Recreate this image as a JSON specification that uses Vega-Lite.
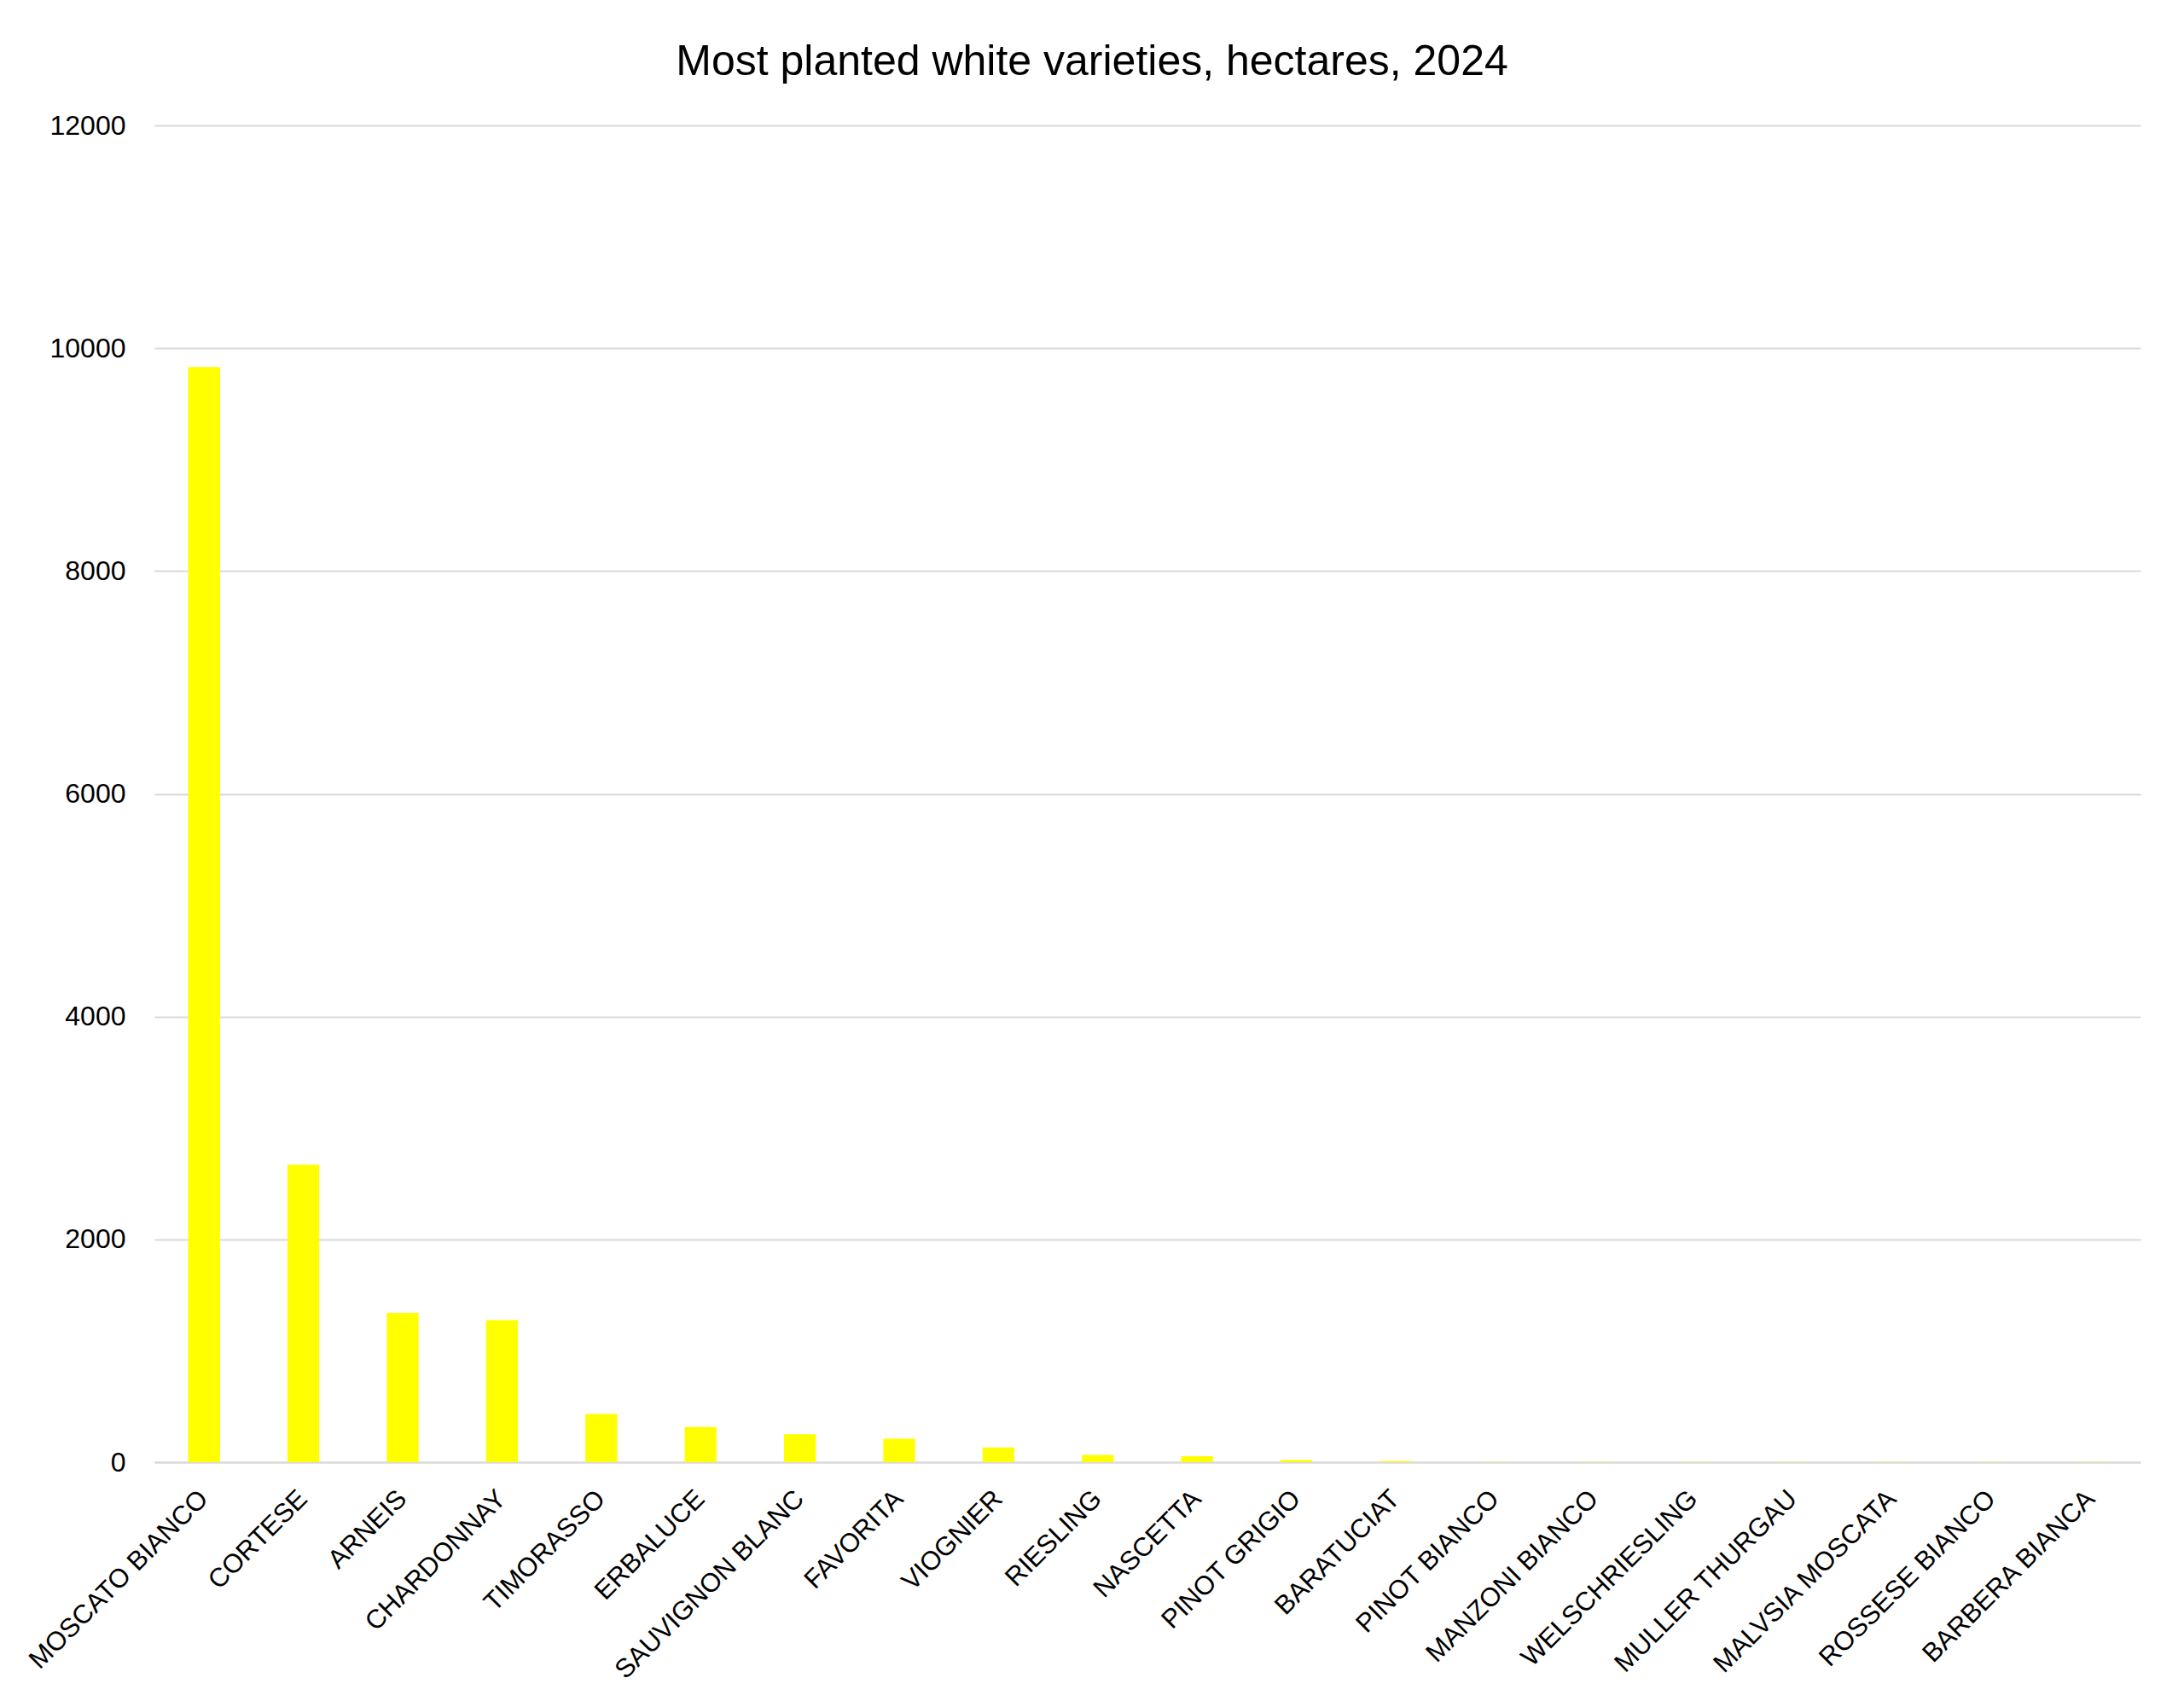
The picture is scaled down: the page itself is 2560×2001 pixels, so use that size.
{
  "$schema": "https://vega.github.io/schema/vega-lite/v6.json",
  "width": 2328,
  "height": 1567,
  "autosize": {"type": "none"},
  "padding": {"left": 181, "top": 147, "right": 51, "bottom": 287},
  "background": "white",
  "title": {
    "text": "Most planted white varieties, hectares, 2024",
    "anchor": "middle",
    "frame": "group",
    "dx": -65,
    "offset": -7,
    "baseline": "alphabetic",
    "font": "Liberation Sans",
    "fontSize": 50,
    "fontWeight": "normal",
    "color": "#000000"
  },
  "data": {
    "values": [
      {"variety": "MOSCATO BIANCO", "hectares": 9830},
      {"variety": "CORTESE", "hectares": 2670},
      {"variety": "ARNEIS", "hectares": 1340},
      {"variety": "CHARDONNAY", "hectares": 1275},
      {"variety": "TIMORASSO", "hectares": 432},
      {"variety": "ERBALUCE", "hectares": 315},
      {"variety": "SAUVIGNON BLANC", "hectares": 251},
      {"variety": "FAVORITA", "hectares": 210},
      {"variety": "VIOGNIER", "hectares": 133},
      {"variety": "RIESLING", "hectares": 66},
      {"variety": "NASCETTA", "hectares": 54},
      {"variety": "PINOT GRIGIO", "hectares": 20},
      {"variety": "BARATUCIAT", "hectares": 10},
      {"variety": "PINOT BIANCO", "hectares": 2},
      {"variety": "MANZONI BIANCO", "hectares": 1},
      {"variety": "WELSCHRIESLING", "hectares": 1},
      {"variety": "MULLER THURGAU", "hectares": 1},
      {"variety": "MALVSIA MOSCATA", "hectares": 1},
      {"variety": "ROSSESE BIANCO", "hectares": 1},
      {"variety": "BARBERA BIANCA", "hectares": 1}
    ]
  },
  "mark": {"type": "bar", "color": "#FFFF00"},
  "encoding": {
    "x": {
      "field": "variety",
      "type": "nominal",
      "sort": null,
      "scale": {"paddingInner": 0.68, "paddingOuter": 0.34},
      "axis": {
        "title": null,
        "labelAngle": -45,
        "labelAlign": "right",
        "labelBaseline": "middle",
        "labelPadding": 38,
        "labelLimit": 0,
        "labelFont": "Liberation Sans",
        "labelFontSize": 31,
        "labelColor": "#000000",
        "ticks": false,
        "tickSize": 0,
        "domainColor": "#d9d9d9",
        "domainWidth": 2,
        "grid": false
      }
    },
    "y": {
      "field": "hectares",
      "type": "quantitative",
      "scale": {"domain": [0, 12000], "nice": false},
      "axis": {
        "title": null,
        "values": [0, 2000, 4000, 6000, 8000, 10000, 12000],
        "format": "d",
        "labelFont": "Liberation Sans",
        "labelFontSize": 32,
        "labelColor": "#000000",
        "labelPadding": 34,
        "ticks": false,
        "tickSize": 0,
        "domain": false,
        "grid": true,
        "gridColor": "#d9d9d9",
        "gridWidth": 2
      }
    }
  },
  "config": {
    "view": {"stroke": null}
  }
}
